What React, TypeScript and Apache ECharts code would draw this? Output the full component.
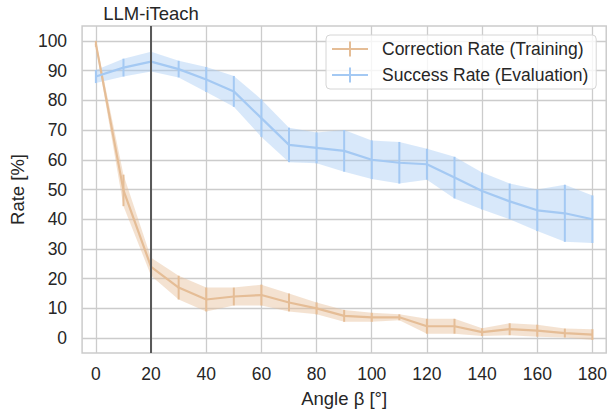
import React, { useEffect, useRef } from "react";
import * as echarts from "echarts";

const angles = [0, 10, 20, 30, 40, 50, 60, 70, 80, 90, 100, 110, 120, 130, 140, 150, 160, 170, 180];
const correctionMean = [99, 49.7, 24, 17, 13, 14, 14.5, 12, 10, 7.5, 7, 7, 4, 4, 2, 3, 2.5, 1.7, 1.2];
const correctionErr = [1, 5.3, 3, 4, 4, 3, 3.5, 3, 2, 2, 1.5, 1, 2.5, 2.5, 1.3, 2, 2, 1.5, 1.8];
const successMean = [88, 91, 93, 90.5, 87, 83, 74, 65, 64, 63, 60, 59, 58.5, 54, 49.5, 46, 43, 42, 40];
const successErr = [2.2, 3, 3.3, 2.8, 4.2, 5.2, 6.3, 5.8, 5.2, 7, 6.5, 7, 5.2, 7, 6.2, 6, 7, 9.6, 8];
const xTicks = [0, 20, 40, 60, 80, 100, 120, 140, 160, 180];
const yTicks = [0, 10, 20, 30, 40, 50, 60, 70, 80, 90, 100];
const markerAngle = 20;
const markerLabel = "LLM-iTeach";
const correctionName = "Correction Rate (Training)";
const successName = "Success Rate (Evaluation)";

const FONT = "'Liberation Sans', Arial, sans-serif";
const TEXT = "#262626";
const GRID = "#cccccc";
const ORANGE = "#e5bd96";
const ORANGE_BAND = "rgba(229,189,150,0.44)";
const BLUE = "#a4c9f3";
const BLUE_BAND = "rgba(164,201,243,0.43)";
const LEGEND_ICON = "path://M0,6.5h36v2H0z M17,0h2v15h-2z";

function bandSeries(id: string, mean: number[], err: number[], color: string) {
  return {
    type: "custom",
    name: id,
    silent: true,
    clip: false,
    z: 1,
    data: angles.map((a, i) => [a, mean[i] - err[i], mean[i] + err[i]]),
    encode: { x: 0, y: [1, 2] },
    renderItem: (params: any, api: any) => {
      if (params.dataIndex !== 0) return null;
      const upper = angles.map((a, i) => api.coord([a, mean[i] + err[i]]));
      const lower = angles.map((a, i) => api.coord([a, mean[i] - err[i]])).reverse();
      return {
        type: "polygon",
        shape: { points: upper.concat(lower) },
        style: { fill: color },
      };
    },
  };
}

function errorBarSeries(id: string, mean: number[], err: number[], color: string) {
  return {
    type: "custom",
    name: id,
    silent: true,
    clip: false,
    z: 3,
    data: angles.map((a, i) => [a, mean[i] - err[i], mean[i] + err[i]]),
    encode: { x: 0, y: [1, 2] },
    renderItem: (params: any, api: any) => {
      const x = api.value(0);
      const lo = api.coord([x, api.value(1)]);
      const hi = api.coord([x, api.value(2)]);
      return {
        type: "line",
        shape: { x1: lo[0], y1: lo[1], x2: hi[0], y2: hi[1] },
        style: { stroke: color, lineWidth: 2 },
      };
    },
  };
}

export default function App() {
  const ref = useRef<HTMLDivElement>(null);
  useEffect(() => {
    document.body.style.margin = "0";
    if (!ref.current) return;
    const chart = echarts.init(ref.current, undefined, { renderer: "svg" });
    const option: any = {
      animation: false,
      backgroundColor: "#ffffff",
      textStyle: { fontFamily: FONT },
      grid: {
        left: 81,
        right: 3,
        top: 26,
        bottom: 57,
        show: true,
        borderColor: GRID,
        borderWidth: 1.5,
      },
      legend: {
        data: [correctionName, successName],
        orient: "vertical",
        left: 326,
        top: 35,
        itemWidth: 36,
        itemHeight: 15,
        itemGap: 8,
        icon: LEGEND_ICON,
        textStyle: { fontSize: 17.5, color: TEXT, fontFamily: FONT, padding: [0, 0, 0, 9] },
        backgroundColor: "rgba(255,255,255,0.8)",
        borderColor: "#d6d6d6",
        borderWidth: 1,
        borderRadius: 4,
        padding: [5, 8, 5, 6],
        z: 10,
      },
      xAxis: {
        type: "value",
        min: -5,
        max: 185,
        axisLine: { show: false },
        axisTick: { show: false, customValues: xTicks },
        axisLabel: { customValues: xTicks, fontSize: 17.5, color: TEXT, fontFamily: FONT, margin: 12 },
        splitLine: { show: true, lineStyle: { color: GRID, width: 1.3 } },
        name: "Angle β [°]",
        nameLocation: "middle",
        nameGap: 36,
        nameTextStyle: { fontSize: 18.5, color: TEXT, fontFamily: FONT },
      },
      yAxis: {
        type: "value",
        min: -5,
        max: 105,
        axisLine: { show: false },
        axisTick: { show: false, customValues: yTicks },
        axisLabel: { customValues: yTicks, fontSize: 17.5, color: TEXT, fontFamily: FONT, margin: 15 },
        splitLine: { show: true, lineStyle: { color: GRID, width: 1.3 } },
        name: "Rate [%]",
        nameLocation: "middle",
        nameGap: 47,
        nameTextStyle: { fontSize: 18.5, color: TEXT, fontFamily: FONT },
      },
      series: [
        bandSeries("correctionBand", correctionMean, correctionErr, ORANGE_BAND),
        bandSeries("successBand", successMean, successErr, BLUE_BAND),
        errorBarSeries("correctionBars", correctionMean, correctionErr, ORANGE),
        errorBarSeries("successBars", successMean, successErr, BLUE),
        {
          type: "line",
          name: correctionName,
          data: angles.map((a, i) => [a, correctionMean[i]]),
          showSymbol: false,
          symbol: "none",
          clip: false,
          z: 4,
          itemStyle: { color: ORANGE },
          lineStyle: { color: ORANGE, width: 2.2 },
          markLine: {
            silent: true,
            symbol: ["none", "none"],
            lineStyle: { color: "#595959", width: 2, type: "solid" },
            label: {
              show: true,
              position: "end",
              formatter: markerLabel,
              color: TEXT,
              fontSize: 18.5,
              fontFamily: FONT,
              distance: 3,
            },
            data: [{ xAxis: markerAngle }],
          },
        },
        {
          type: "line",
          name: successName,
          data: angles.map((a, i) => [a, successMean[i]]),
          showSymbol: false,
          symbol: "none",
          clip: false,
          z: 4,
          itemStyle: { color: BLUE },
          lineStyle: { color: BLUE, width: 2.2 },
        },
      ],
    };
    chart.setOption(option);
    return () => chart.dispose();
  }, []);
  return <div ref={ref} style={{ width: 610, height: 413 }} />;
}
